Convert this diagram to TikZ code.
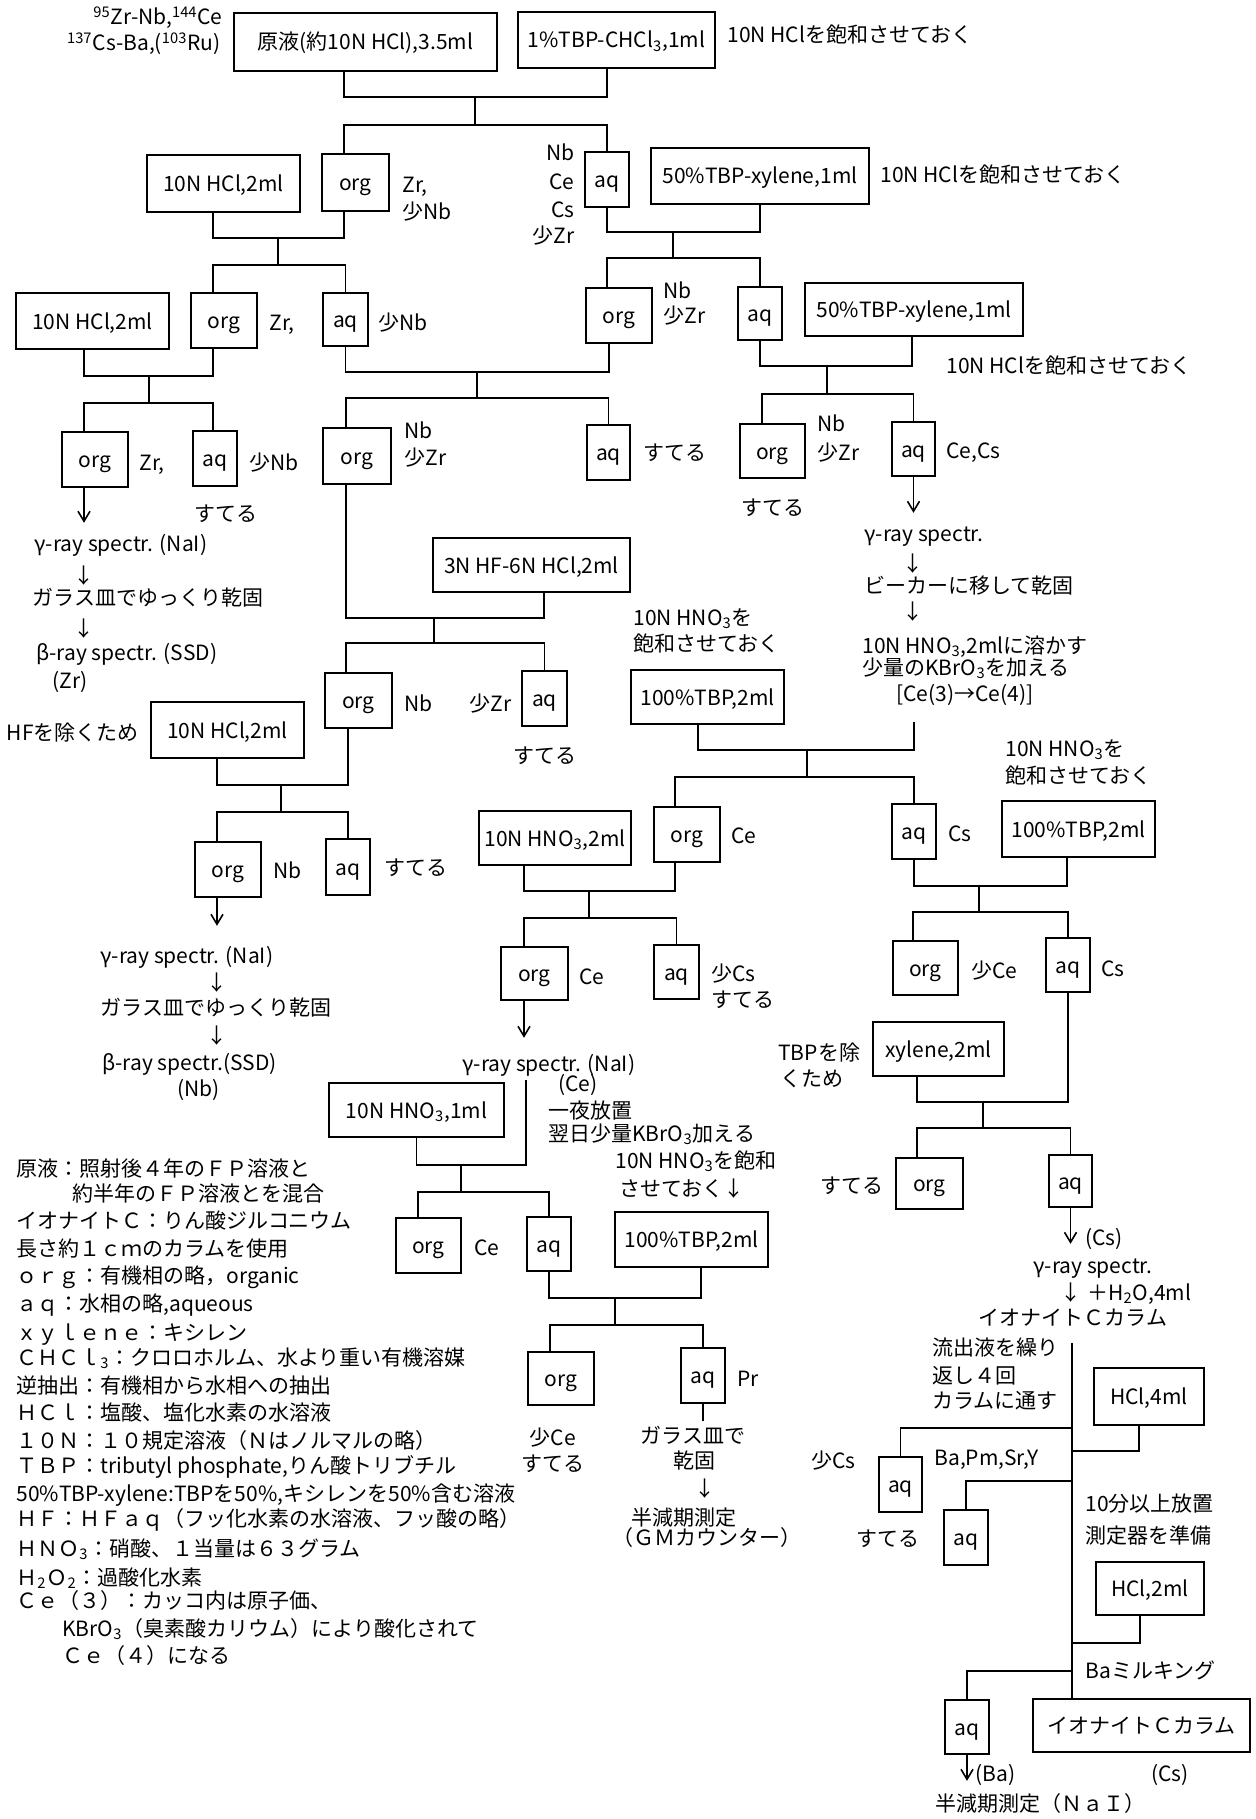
\documentclass[tikz,border=0pt]{standalone}
\usepackage{fontspec}
\setmainfont{Noto Sans CJK JP}
\usetikzlibrary{arrows.meta}
\tikzset{
  bx/.style={draw, line width=0.8pt, inner sep=0pt, text height=9pt, text depth=1pt},
  sz/.style 2 args={minimum width=#1*0.5pt, minimum height=#2*0.5pt},
  lb/.style={inner sep=0pt, anchor=west, text height=9pt, text depth=1pt},
  lr/.style={lb, anchor=east},
  lc/.style={lb, anchor=center},
  ln/.style={line width=0.8pt},
  arr/.style={ln, -{Straight Barb[length=5pt,width=6pt]}},
}
\begin{document}
\begin{tikzpicture}[x=0.5pt,y=-0.5pt,font=\fontsize{10.5}{12}\selectfont]
\fill[white] (0,0) rectangle (1255,1819);
\useasboundingbox (0,0) rectangle (1255,1819);

% ---------- boxes ----------
\node[bx,sz={263}{58}] (B1) at (365.5,42) {原液(約10N HCl),3.5ml};
\node[bx,sz={197}{56}] (B2) at (616.5,40) {1\%TBP-CHCl\textsubscript{3},1ml};
\node[bx,sz={153}{57}] (R2hcl) at (223.5,183.5) {10N HCl,2ml};
\node[bx,sz={67}{57}] (R2org) at (355.5,182.5) {org};
\node[bx,sz={44}{55}] (R2aq) at (607,179.5) {aq};
\node[bx,sz={218}{56}] (R2tbp) at (760,176) {50\%TBP-xylene,1ml};
\node[bx,sz={153}{56}] (R3hcl) at (92.5,321) {10N HCl,2ml};
\node[bx,sz={66}{55}] (R3org) at (224,320.5) {org};
\node[bx,sz={45}{53}] (R3aq) at (345.5,319.5) {aq};
\node[bx,sz={66}{55}] (R3morg) at (619,315.5) {org};
\node[bx,sz={44}{53}] (R3raq) at (760,313.5) {aq};
\node[bx,sz={218}{53}] (R3tbp) at (914,309.5) {50\%TBP-xylene,1ml};
\node[bx,sz={66}{55}] (R4lorg) at (95,459.5) {org};
\node[bx,sz={44}{55}] (R4laq) at (215,458.5) {aq};
\node[bx,sz={68}{56}] (R4morg) at (357,456) {org};
\node[bx,sz={43}{55}] (R4maq) at (608.5,452.5) {aq};
\node[bx,sz={65}{54}] (R4rorg) at (772.5,451) {org};
\node[bx,sz={43}{54}] (R4raq) at (913.5,449) {aq};
\node[bx,sz={197}{54}] (HF) at (531.5,565) {3N HF-6N HCl,2ml};
\node[bx,sz={67}{55}] (R5org) at (358.5,700.5) {org};
\node[bx,sz={45}{55}] (R5aq) at (544.5,698.5) {aq};
\node[bx,sz={153}{56}] (R5hcl) at (227.5,730) {10N HCl,2ml};
\node[bx,sz={153}{54}] (R5tbp) at (707.5,697) {100\%TBP,2ml};
\node[bx,sz={66}{55}] (R6lorg) at (228,869.5) {org};
\node[bx,sz={44}{56}] (R6laq) at (348,867) {aq};
\node[bx,sz={152}{54}] (R6hno) at (555,838) {10N HNO\textsubscript{3},2ml};
\node[bx,sz={66}{55}] (R6corg) at (687,834.5) {org};
\node[bx,sz={44}{55}] (R6caq) at (914,831.5) {aq};
\node[bx,sz={153}{56}] (R6rtbp) at (1078.5,829) {100\%TBP,2ml};
\node[bx,sz={67}{53}] (R7corg) at (534.5,973.5) {org};
\node[bx,sz={45}{54}] (R7caq) at (676.5,972) {aq};
\node[bx,sz={65}{54}] (R7rorg) at (925.5,968) {org};
\node[bx,sz={44}{54}] (R7raq) at (1068,965) {aq};
\node[bx,sz={131}{54}] (R7xyl) at (938.5,1049) {xylene,2ml};
\node[bx,sz={175}{54}] (R7hno) at (416.5,1110) {10N HNO\textsubscript{3},1ml};
\node[bx,sz={67}{51}] (R8rorg) at (929.5,1183.5) {org};
\node[bx,sz={43}{52}] (R8raq) at (1070.5,1181) {aq};
\node[bx,sz={65}{55}] (R8corg) at (428.5,1245.5) {org};
\node[bx,sz={44}{54}] (R8caq) at (549,1244) {aq};
\node[bx,sz={153}{55}] (R8tbp) at (691.5,1239.5) {100\%TBP,2ml};
\node[bx,sz={66}{53}] (R9org) at (561,1378.5) {org};
\node[bx,sz={44}{55}] (R9aq) at (703,1375.5) {aq};
\node[bx,sz={110}{57}] (HCl4) at (1149,1396.5) {HCl,4ml};
\node[bx,sz={43}{55}] (aqA) at (900.5,1484.5) {aq};
\node[bx,sz={44}{55}] (aqB) at (966,1537.5) {aq};
\node[bx,sz={108}{53}] (HCl2) at (1150,1588.5) {HCl,2ml};
\node[bx,sz={44}{54}] (aqC) at (967,1727) {aq};
\node[bx,sz={217}{53}] (colBox) at (1141.5,1725.5) {イオナイトＣカラム};

% ---------- junction coordinates ----------
\coordinate (m1) at (475,97);   \coordinate (s1) at (475,125);
\coordinate (m2) at (278,238);  \coordinate (s2) at (278,265);
\coordinate (m3) at (673,232);  \coordinate (s3) at (673,258);
\coordinate (m4) at (149,376);  \coordinate (s4) at (149,403);
\coordinate (m5) at (477,372);  \coordinate (s5) at (477,398);
\coordinate (m6) at (827,366);  \coordinate (s6) at (827,394);
\coordinate (m7) at (434,618);  \coordinate (s7) at (434,643);
\coordinate (m8) at (281,785);  \coordinate (s8) at (281,812);
\coordinate (cTop) at (914,722);
\coordinate (m9) at (807,750);  \coordinate (s9) at (807,777);
\coordinate (m10) at (589,891); \coordinate (s10) at (589,918);
\coordinate (m11) at (979,886); \coordinate (s11) at (979,912);
\coordinate (m12) at (983,1102);\coordinate (s12) at (983,1128);
\coordinate (cCe) at (526,1080);
\coordinate (m13) at (461,1165);\coordinate (s13) at (461,1192);
\coordinate (m14) at (615,1298);\coordinate (s14) at (615,1325);
\coordinate (colTop) at (1072,1343);
\coordinate (jA) at (1072,1428);
\coordinate (j1) at (1072,1451);
\coordinate (jB) at (1072,1481);
\coordinate (j2) at (1072,1643);
\coordinate (jC) at (1072,1671);

% ---------- connectors ----------
\draw[ln] ([xshift=-10.75pt]B1.south) |- (m1) -| ([xshift=-4.75pt]B2.south);
\draw[ln] (m1) -- (s1);
\draw[ln] ([xshift=-5.75pt]R2org.north) |- (s1) -| (R2aq.north);

\draw[ln] ([xshift=-5.25pt]R2hcl.south) |- (m2) -| ([xshift=-5.75pt]R2org.south);
\draw[ln] (m2) -- (s2);
\draw[ln] ([xshift=-5.5pt]R3org.north) |- (s2) -| (R3aq.north);

\draw[ln] (R2aq.south) |- (m3) -| (R2tbp.south);
\draw[ln] (m3) -- (s3);
\draw[ln] ([xshift=-6pt]R3morg.north) |- (s3) -| (R3raq.north);

\draw[ln] ([xshift=-4.25pt]R3hcl.south) |- (m4) -| ([xshift=-5.5pt]R3org.south);
\draw[ln] (m4) -- (s4);
\draw[ln] ([xshift=-5.5pt]R4lorg.north) |- (s4) -| ([xshift=-1pt]R4laq.north);

\draw[ln] (R3aq.south) |- (m5) -| ([xshift=-5pt]R3morg.south);
\draw[ln] (m5) -- (s5);
\draw[ln] ([xshift=-5.5pt]R4morg.north) |- (s5) -| (R4maq.north);

\draw[ln] (R3raq.south) |- (m6) -| ([xshift=-1pt]R3tbp.south);
\draw[ln] (m6) -- (s6);
\draw[ln] ([xshift=-5.25pt]R4rorg.north) |- (s6) -| (R4raq.north);

\draw[ln] ([xshift=-5.5pt]R4morg.south) |- (m7) -| ([xshift=6.25pt]HF.south);
\draw[ln] (m7) -- (s7);
\draw[ln] ([xshift=-6.25pt]R5org.north) |- (s7) -| (R5aq.north);

\draw[ln] ([xshift=-5.25pt]R5hcl.south) |- (m8) -| ([xshift=-5.25pt]R5org.south);
\draw[ln] (m8) -- (s8);
\draw[ln] ([xshift=-5.5pt]R6lorg.north) |- (s8) -| (R6laq.north);

\draw[ln] ([xshift=-4.75pt]R5tbp.south) |- (m9) -| (cTop);
\draw[ln] (m9) -- (s9);
\draw[ln] ([xshift=-6pt]R6corg.north) |- (s9) -| (R6caq.north);

\draw[ln] ([xshift=-15.5pt]R6hno.south) |- (m10) -| ([xshift=-6pt]R6corg.south);
\draw[ln] (m10) -- (s10);
\draw[ln] ([xshift=-5.25pt]R7corg.north) |- (s10) -| (R7caq.north);

\draw[ln] (R6caq.south) |- (m11) -| ([xshift=-5.75pt]R6rtbp.south);
\draw[ln] (m11) -- (s11);
\draw[ln] ([xshift=-6.25pt]R7rorg.north) |- (s11) -| (R7raq.north);

\draw[ln] ([xshift=-10.75pt]R7xyl.south) |- (m12) -| (R7raq.south);
\draw[ln] (m12) -- (s12);
\draw[ln] ([xshift=-6.25pt]R8rorg.north) |- (s12) -| (R8raq.north);

\draw[ln] (R7hno.south) |- (m13) -| (cCe);
\draw[ln] (m13) -- (s13);
\draw[ln] ([xshift=-5.25pt]R8corg.north) |- (s13) -| (R8caq.north);

\draw[ln] (R8caq.south) |- (m14) -| ([xshift=4.75pt]R8tbp.south);
\draw[ln] (m14) -- (s14);
\draw[ln] ([xshift=-5.5pt]R9org.north) |- (s14) -| (R9aq.north);

\draw[ln] (colTop) -- ([xshift=-34.75pt]colBox.north);
\draw[ln] ([xshift=-5pt]HCl4.south) |- (j1);
\draw[ln] (jA) -| (aqA.north);
\draw[ln] (jB) -| (aqB.north);
\draw[ln] ([xshift=-5pt]HCl2.south) |- (j2);
\draw[ln] (jC) -| (aqC.north);

\draw[arr] ([xshift=-5.5pt]R4lorg.south) -- ++(0,35);
\draw[arr] (R4raq.south) -- ++(0,36);
\draw[arr] ([xshift=-5.5pt]R6lorg.south) -- ++(0,28);
\draw[arr] ([xshift=-5.25pt]R7corg.south) -- ++(0,37);
\draw[ln] (R9aq.south) -- ++(0,17);
\draw[arr] (R8raq.south) -- ++(0,36);
\draw[arr] (aqC.south) -- ++(0,26);

% ---------- labels ----------
\node[lr] (tz1) at (223,17) {\textsuperscript{95}Zr-Nb,\textsuperscript{144}Ce};
\node[lr] (tz2) at (221,43) {\textsuperscript{137}Cs-Ba,(\textsuperscript{103}Ru)};
\node[lb] (n1) at (727,35) {10N HClを飽和させておく};
\node[lb] (n2) at (880,175) {10N HClを飽和させておく};
\node[lb] (n3) at (946,365) {10N HClを飽和させておく};

\node[lb] (l1) at (402,185) {Zr,};
\node[lb] (l2) at (402,212) {少Nb};
\node[lr] (l3) at (575,153) {Nb};
\node[lr] (l4) at (575,182) {Ce};
\node[lr] (l5) at (575,210) {Cs};
\node[lr] (l6) at (575,235) {少Zr};

\node[lb] (l7) at (269,322) {Zr,};
\node[lb] (l8) at (378,322) {少Nb};
\node[lb] (l9) at (663,290) {Nb};
\node[lb] (l10) at (663,315) {少Zr};

\node[lb] (l11) at (139,462) {Zr,};
\node[lb] (l12) at (249,462) {少Nb};
\node[lb] (l13) at (404,430) {Nb};
\node[lb] (l14) at (404,457) {少Zr};
\node[lb] (l15) at (643,452) {すてる};
\node[lb] (l16) at (817,423) {Nb};
\node[lb] (l17) at (817,452) {少Zr};
\node[lb] (l18) at (946,450) {Ce,Cs};
\node[lc] (l19) at (773,507) {すてる};
\node[lc] (l20) at (226,513) {すてる};

\node[lb] (g1) at (34,543) {γ-ray spectr. (NaI)};
\node[lc] (g2) at (84,575) {↓};
\node[lb] (g3) at (32,597) {ガラス皿でゆっくり乾固};
\node[lc] (g4) at (84,628) {↓};
\node[lb] (g5) at (36,652) {β-ray spectr. (SSD)};
\node[lb] (g6) at (52,680) {(Zr)};

\node[lb] (r1) at (864,533) {γ-ray spectr.};
\node[lc] (r2) at (913,563) {↓};
\node[lb] (r3) at (864,585) {ビーカーに移して乾固};
\node[lc] (r4) at (913,611) {↓};
\node[lb] (r5) at (862,645) {10N HNO\textsubscript{3},2mlに溶かす};
\node[lb] (r6) at (862,667) {少量のKBrO\textsubscript{3}を加える};
\node[lb] (r7) at (896,693) {[Ce(3)→Ce(4)]};

\node[lb] (l21) at (404,703) {Nb};
\node[lr] (l22) at (512,703) {少Zr};
\node[lc] (l23) at (545,755) {すてる};
\node[lr] (l24) at (139,732) {HFを除くため};
\node[lb] (l25) at (633,617) {10N HNO\textsubscript{3}を};
\node[lb] (l26) at (633,643) {飽和させておく};

\node[lb] (l27) at (273,870) {Nb};
\node[lb] (l28) at (384,867) {すてる};
\node[lb] (l29) at (731,835) {Ce};
\node[lb] (l30) at (948,833) {Cs};
\node[lb] (l31) at (1005,748) {10N HNO\textsubscript{3}を};
\node[lb] (l32) at (1005,775) {飽和させておく};

\node[lb] (h1) at (100,955) {γ-ray spectr. (NaI)};
\node[lc] (h2) at (217,982) {↓};
\node[lb] (h3) at (100,1007) {ガラス皿でゆっくり乾固};
\node[lc] (h4) at (217,1035) {↓};
\node[lb] (h5) at (102,1062) {β-ray spectr.(SSD)};
\node[lb] (h6) at (177,1088) {(Nb)};

\node[lb] (l33) at (579,976) {Ce};
\node[lb] (l34) at (711,973) {少Cs};
\node[lb] (l35) at (711,999) {すてる};
\node[lb] (l36) at (971,970) {少Ce};
\node[lb] (l37) at (1101,968) {Cs};
\node[lb] (l38) at (778,1052) {TBPを除};
\node[lb] (l39) at (780,1078) {くため};
\node[lb] (c1) at (462,1063) {γ-ray spectr. (NaI)};
\node[lb] (c2) at (558,1083) {(Ce)};
\node[lb] (c3) at (548,1110) {一夜放置};
\node[lb] (c4) at (548,1133) {翌日少量KBrO\textsubscript{3}加える};
\node[lb] (c5) at (615,1160) {10N HNO\textsubscript{3}を飽和};
\node[lb] (c6) at (619,1188) {させておく↓};

\node[lb] (l40) at (474,1247) {Ce};
\node[lr] (l41) at (884,1185) {すてる};
\node[lc] (l42) at (553,1437) {少Ce};
\node[lc] (l43) at (553,1463) {すてる};
\node[lb] (l44) at (737,1378) {Pr};
\node[lc] (p1) at (693,1435) {ガラス皿で};
\node[lc] (p2) at (694,1460) {乾固};
\node[lc] (p3) at (705,1488) {↓};
\node[lc] (p4) at (684,1517) {半減期測定};
\node[lc] (p5) at (707,1537) {（ＧＭカウンター）};

\node[lb] (q1) at (1085,1237) {(Cs)};
\node[lc] (q2) at (1093,1265) {γ-ray spectr.};
\node[lc] (q3) at (1071,1292) {↓};
\node[lb] (q4) at (1087,1292) {＋H\textsubscript{2}O,4ml};
\node[lc] (q5) at (1073,1317) {イオナイトＣカラム};
\node[lb] (q6) at (932,1347) {流出液を繰り};
\node[lb] (q7) at (932,1375) {返し４回};
\node[lb] (q8) at (932,1400) {カラムに通す};
\node[lr] (q9) at (856,1460) {少Cs};
\node[lb] (q10) at (934,1457) {Ba,Pm,Sr,Y};
\node[lr] (q11) at (920,1538) {すてる};
\node[lb] (q12) at (1085,1503) {10分以上放置};
\node[lb] (q13) at (1085,1535) {測定器を準備};
\node[lb] (q14) at (1085,1670) {Baミルキング};
\node[lb] (q15) at (975,1773) {(Ba)};
\node[lb] (q16) at (1151,1773) {(Cs)};
\node[lc] (q17) at (1040,1803) {半減期測定（ＮａＩ）};

% ---------- legend ----------
\node[lb] (k1) at (16,1168) {原液：照射後４年のＦＰ溶液と};
\node[lb] (k2) at (72,1193) {約半年のＦＰ溶液とを混合};
\node[lb] (k3) at (16,1220) {イオナイトＣ：りん酸ジルコニウム};
\node[lb] (k4) at (16,1248) {長さ約１ｃｍのカラムを使用};
\node[lb] (k5) at (16,1275) {ｏｒｇ：有機相の略，organic};
\node[lb] (k6) at (16,1303) {ａｑ：水相の略,aqueous};
\node[lb] (k7) at (16,1332) {ｘｙｌｅｎｅ：キシレン};
\node[lb] (k8) at (16,1357) {ＣＨＣｌ\textsubscript{3}：クロロホルム、水より重い有機溶媒};
\node[lb] (k9) at (16,1385) {逆抽出：有機相から水相への抽出};
\node[lb] (k10) at (16,1412) {ＨＣｌ：塩酸、塩化水素の水溶液};
\node[lb] (k11) at (16,1440) {１０Ｎ：１０規定溶液（Ｎはノルマルの略）};
\node[lb] (k12) at (16,1465) {ＴＢＰ：tributyl phosphate,りん酸トリブチル};
\node[lb] (k13) at (16,1493) {50\%TBP-xylene:TBPを50\%,キシレンを50\%含む溶液};
\node[lb] (k14) at (16,1518) {ＨＦ：ＨＦａｑ（フッ化水素の水溶液、フッ酸の略）};
\node[lb] (k15) at (16,1548) {ＨＮＯ\textsubscript{3}：硝酸、１当量は６３グラム};
\node[lb] (k16) at (16,1577) {Ｈ\textsubscript{2}Ｏ\textsubscript{2}：過酸化水素};
\node[lb] (k17) at (16,1600) {Ｃｅ（３）：カッコ内は原子価、};
\node[lb] (k18) at (62,1628) {KBrO\textsubscript{3}（臭素酸カリウム）により酸化されて};
\node[lb] (k19) at (62,1655) {Ｃｅ（４）になる};
\end{tikzpicture}
\end{document}
